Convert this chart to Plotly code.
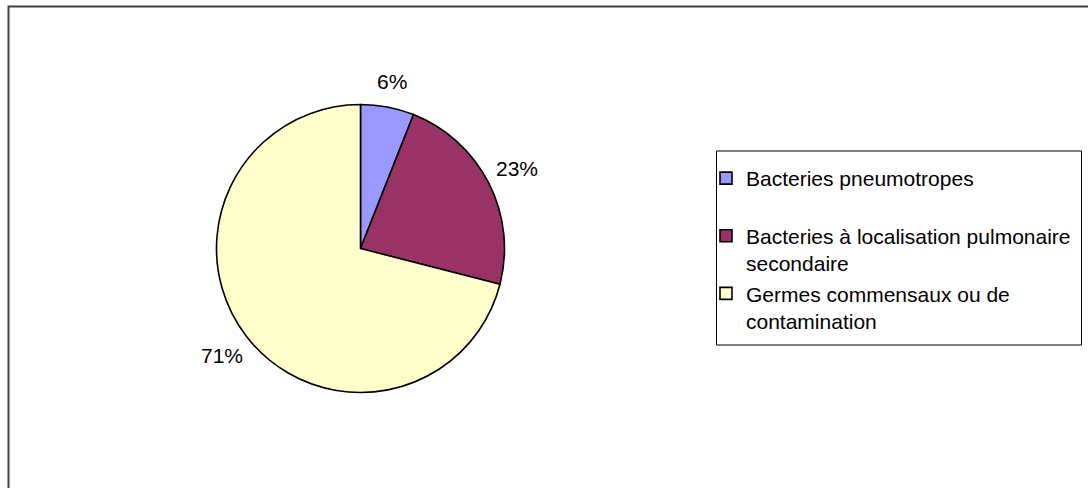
import math
import plotly.graph_objects as go

# Breakdown of the isolated germs (percent)
categories = [
    "Bacteries pneumotropes",
    "Bacteries à localisation pulmonaire secondaire",
    "Germes commensaux ou de contamination",
]
legend_labels = [
    "Bacteries pneumotropes<br> ",
    "Bacteries à localisation pulmonaire<br>secondaire",
    "Germes commensaux ou de<br>contamination",
]
values = [6, 23, 71]
colors = ["#9999FF", "#993366", "#FFFFCC"]

W, H = 1088, 488
FONT = "Arial, 'Liberation Sans', sans-serif"
FS = 21

# Pie geometry in pixels
cx, cy, r = 360.5, 248.5, 144.0

fig = go.Figure(
    go.Pie(
        labels=legend_labels,
        values=values,
        marker=dict(colors=colors, line=dict(color="#000000", width=1.6)),
        sort=False,
        direction="clockwise",
        rotation=0,
        textinfo="none",
        hoverinfo="label+percent",
        domain=dict(
            x=[(cx - r) / W, (cx + r) / W],
            y=[(H - cy - r) / H, (H - cy + r) / H],
        ),
    )
)

# Percentage labels placed radially outside each slice; wider offset
# for labels that sit to the side of the pie
total = sum(values)
annotations = []
cum = 0.0
for v in values:
    mid = (cum + v / 2) / total * 2 * math.pi
    cum += v
    label_r = r + 24 + 9 * abs(math.sin(mid))
    lx = cx + label_r * math.sin(mid)
    ly = cy - label_r * math.cos(mid)
    annotations.append(
        dict(
            x=lx / W,
            y=1 - ly / H,
            xref="paper",
            yref="paper",
            text=f"{round(v / total * 100)}%",
            showarrow=False,
            xanchor="center",
            yanchor="middle",
            font=dict(family=FONT, size=FS, color="#000000"),
        )
    )

shapes = [
    # outer chart frame
    dict(
        type="rect", xref="paper", yref="paper",
        x0=8.5 / W, x1=1.02, y0=-0.05, y1=1 - 6.5 / H,
        line=dict(color="#404040", width=2), fillcolor="rgba(0,0,0,0)",
    ),
    # legend box
    dict(
        type="rect", xref="paper", yref="paper",
        x0=716.5 / W, x1=1081.5 / W, y0=1 - 345 / H, y1=1 - 151 / H,
        line=dict(color="#000000", width=1), fillcolor="rgba(0,0,0,0)",
    ),
]

fig.update_layout(
    width=W,
    height=H,
    margin=dict(l=0, r=0, t=0, b=0),
    paper_bgcolor="#FFFFFF",
    plot_bgcolor="#FFFFFF",
    font=dict(family=FONT, size=FS, color="#000000"),
    showlegend=True,
    legend=dict(
        x=706 / W,
        y=1 - 158 / H,
        xanchor="left",
        yanchor="top",
        bgcolor="rgba(0,0,0,0)",
        borderwidth=0,
        valign="top",
        font=dict(family=FONT, size=FS, color="#000000"),
    ),
    annotations=annotations,
    shapes=shapes,
)

fig.write_html("out.html")
